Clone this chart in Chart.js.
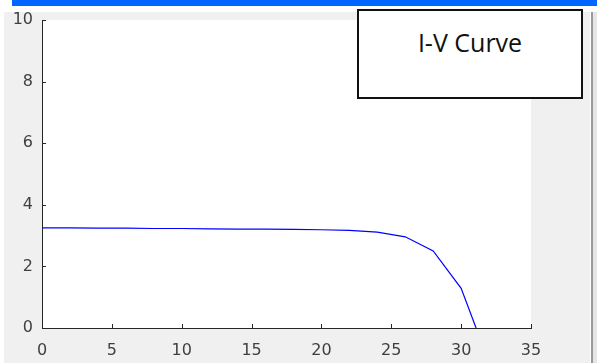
<!DOCTYPE html>
<html>
<head>
<meta charset="utf-8">
<script src="https://cdn.jsdelivr.net/npm/chart.js@4.4.1/dist/chart.umd.min.js"></script>
<style>
  html, body { margin: 0; padding: 0; background: #ffffff; }
  #wrap { position: relative; width: 597px; height: 363px; overflow: hidden; }
  .barra { position: absolute; left: 12px; top: 0; width: 585px; height: 6px; background: #0066ff; }
  .panel { position: absolute; left: 4px; top: 12px; width: 586px; height: 351px; background: #f0f0f0; }
  .borde { position: absolute; left: 591px; top: 12px; width: 2px; height: 351px; background: #9a9a9a; }
  .resto { position: absolute; left: 593px; top: 12px; width: 4px; height: 351px; background: #e6e6e6; }
  #grafico { position: absolute; left: 0; top: 0; }
  .cuadro {
    position: absolute; left: 357px; top: 9px; width: 226px; height: 90px;
    box-sizing: border-box; border: 2.5px solid #111; background: #fff;
    font-family: "Open Sans", sans-serif; font-size: 25px; color: #111;
    text-align: center; line-height: 34px; padding-top: 14px;
  }
</style>
</head>
<body>
<div id="wrap">
  <div class="barra"></div>
  <div class="panel"></div>
  <div class="borde"></div>
  <div class="resto"></div>
  <canvas id="grafico" width="597" height="363"></canvas>
  <div class="cuadro">I-V Curve</div>
</div>
<script>
/*Datos de la curva I-V*/
const voltaje = [0, 2, 4, 6, 8, 10, 12, 14, 16, 18, 20, 22, 24, 26, 28, 30, 31.07]
const corriente = [3.25, 3.25, 3.24, 3.24, 3.23, 3.23, 3.22, 3.21, 3.21, 3.2, 3.19, 3.17, 3.11, 2.96, 2.5, 1.29, 0]
const ticksX = [0, 5, 10, 15, 20, 25, 30, 35]
const ticksY = [0, 2, 4, 6, 8, 10]

let puntos = voltaje.map((v, i) => ({ x: v, y: corriente[i] }))

//Fondo blanco del area y marcas hacia dentro (estilo MATLAB)
const marcas = {
    id: 'marcas',
    beforeDraw(chart) {
        let a = chart.chartArea
        let ctx = chart.ctx
        ctx.save()
        ctx.fillStyle = '#ffffff'
        ctx.fillRect(a.left, a.top, a.right - a.left, a.bottom - a.top)
        ctx.restore()
    },
    afterDraw(chart) {
        let a = chart.chartArea
        let ctx = chart.ctx
        ctx.save()
        ctx.strokeStyle = '#262626'
        ctx.lineWidth = 1
        ctx.beginPath()
        ticksX.forEach(t => {
            let px = Math.round(chart.scales.x.getPixelForValue(t)) + 0.5
            ctx.moveTo(px, a.bottom)
            ctx.lineTo(px, a.bottom - 4)
        })
        ticksY.forEach(t => {
            let py = Math.round(chart.scales.y.getPixelForValue(t)) + 0.5
            ctx.moveTo(a.left, py)
            ctx.lineTo(a.left + 4, py)
        })
        ctx.stroke()
        ctx.restore()
    }
}

let fuente = { family: 'DejaVu Sans', size: 16 }

let graf = new Chart('grafico', {
    type: 'line',
    data: {
        datasets: [{
            data: puntos,
            borderColor: '#0000ff',
            borderWidth: 1.2,
            pointRadius: 0,
            tension: 0,
            fill: false
        }]
    },
    options: {
        responsive: false,
        animation: false,
        layout: { padding: { top: 20, right: 66, left: 0, bottom: 0 } },
        plugins: { legend: { display: false }, tooltip: { enabled: false } },
        scales: {
            x: {
                type: 'linear',
                min: 0,
                max: 35,
                afterBuildTicks: s => { s.ticks = ticksX.map(v => ({ value: v })) },
                afterFit: s => { s.height = 35 },
                grid: { display: false, drawTicks: false },
                border: { display: true, color: '#262626', width: 1 },
                ticks: { font: fuente, color: '#404040', padding: 13, maxRotation: 0 }
            },
            y: {
                type: 'linear',
                min: 0,
                max: 10,
                afterBuildTicks: s => { s.ticks = ticksY.map(v => ({ value: v })) },
                afterFit: s => { s.width = 42 },
                grid: { display: false, drawTicks: false },
                border: { display: true, color: '#262626', width: 1 },
                ticks: { font: fuente, color: '#404040', padding: 9 }
            }
        }
    },
    plugins: [marcas]
})
</script>
</body>
</html>
